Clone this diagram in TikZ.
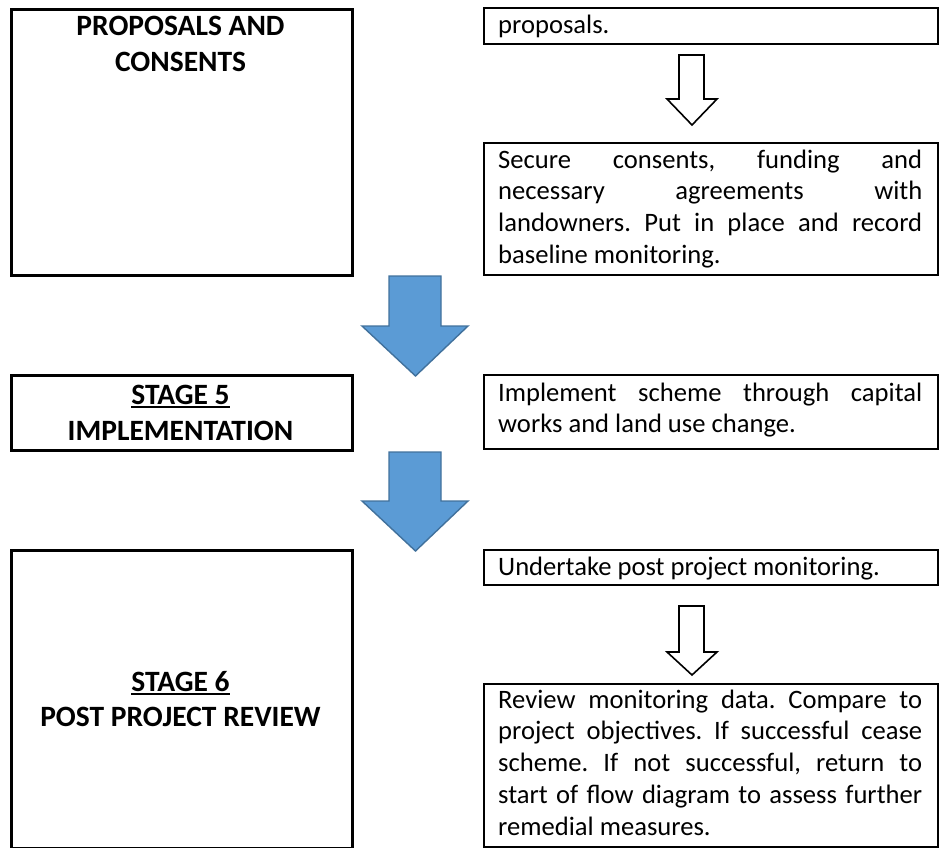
\documentclass[tikz,border=0pt]{standalone}
\usepackage{fontspec}
\setmainfont{Carlito}
\usetikzlibrary{calc}

\definecolor{arrowblue}{RGB}{91,155,213}
\definecolor{arrowedge}{RGB}{65,113,156}

% underline drawn as a rule below the baseline
\newcommand\stageul[1]{\leavevmode\setbox0\hbox{#1}\rlap{\rule[-4pt]{\wd0}{1.8pt}}\box0}
% one fully justified line of a given width
\newcommand\jline[1]{\makebox[424pt][s]{#1}}

\tikzset{
  stagebox/.style={draw=black, line width=3pt, fill=white, inner sep=0pt,
    anchor=north west},
  notebox/.style={draw=black, line width=2.2pt, fill=white, inner sep=0pt,
    anchor=north west},
  titletext/.style={inner sep=0pt, anchor=base,
    font=\bfseries\fontsize{29.5}{36}\selectfont},
  bodytext/.style={inner sep=0pt, anchor=base west,
    font=\frenchspacing\fontsize{26.6}{31.8}\selectfont},
  bluearrow/.style={fill=arrowblue, draw=arrowedge, line width=1.4pt,
    line join=miter},
  whitearrow/.style={fill=white, draw=black, line width=1.6pt,
    line join=miter},
}

\begin{document}
\begin{tikzpicture}[x=1pt, y=-1pt]
\useasboundingbox (0,0) rectangle (942,848);

% ---- left column: stages ----
\node[stagebox, minimum width=341pt, minimum height=266pt] (stageA) at (10,8) {};
\node[titletext] (stageAtext) at (180.5,36)
  {\parbox[t]{330pt}{\centering PROPOSALS AND\\CONSENTS}};

\node[stagebox, minimum width=341pt, minimum height=75pt] (stage5) at (10,374) {};
\node[titletext] (stage5text) at (180.5,404)
  {\parbox[t]{330pt}{\centering \stageul{STAGE 5}\\IMPLEMENTATION}};

\node[stagebox, minimum width=341pt, minimum height=298pt] (stage6) at (10,549) {};
\node[titletext] (stage6text) at (180.5,691)
  {\parbox[t]{330pt}{\centering \stageul{STAGE 6}\\[-1pt]POST PROJECT REVIEW}};

% ---- right column: actions ----
\node[notebox, minimum width=454pt, minimum height=36pt] (prop) at (483,7) {};
\node[bodytext] (proptext) at (498,33.3) {proposals.};

\node[notebox, minimum width=454pt, minimum height=132pt] (secure) at (483,142) {};
\node[bodytext] (securetext) at (498,168)
  {\parbox[t]{424pt}{\jline{Secure consents, funding and}\\
    \jline{necessary agreements with}\\
    \jline{landowners. Put in place and record}\\
    baseline monitoring.}};

\node[notebox, minimum width=454pt, minimum height=74pt] (impl) at (483,374) {};
\node[bodytext] (impltext) at (498,401)
  {\parbox[t]{424pt}{\jline{Implement scheme through capital}\\
    works and land use change.}};

\node[notebox, minimum width=454pt, minimum height=35pt] (post) at (483,549) {};
\node[bodytext] (posttext) at (498,575) {Undertake post project monitoring.};

\node[notebox, minimum width=454pt, minimum height=163pt] (review) at (483,683) {};
\node[bodytext] (reviewtext) at (498,708)
  {\parbox[t]{424pt}{\jline{Review monitoring data. Compare to}\\
    \jline{project objectives. If successful cease}\\
    \jline{scheme. If not successful, return to}\\
    \jline{start of flow diagram to assess further}\\
    remedial measures.}};

% ---- outline arrows within the right column ----
\draw[whitearrow] (679,55) -- (704,55) -- (704,99) -- (717,99) -- (692,125)
  -- (667,99) -- (679,99) -- cycle;
\draw[whitearrow] (679,606) -- (704,606) -- (704,652) -- (717,652) -- (692,675)
  -- (667,652) -- (679,652) -- cycle;

% ---- block arrows between stages ----
\draw[bluearrow] (389,276) -- (441,276) -- (441,326) -- (468,326) -- (415.5,376)
  -- (362,326) -- (389,326) -- cycle;
\draw[bluearrow] (389,452) -- (441,452) -- (441,501) -- (468,501) -- (415.5,551)
  -- (362,501) -- (389,501) -- cycle;
\end{tikzpicture}
\end{document}
